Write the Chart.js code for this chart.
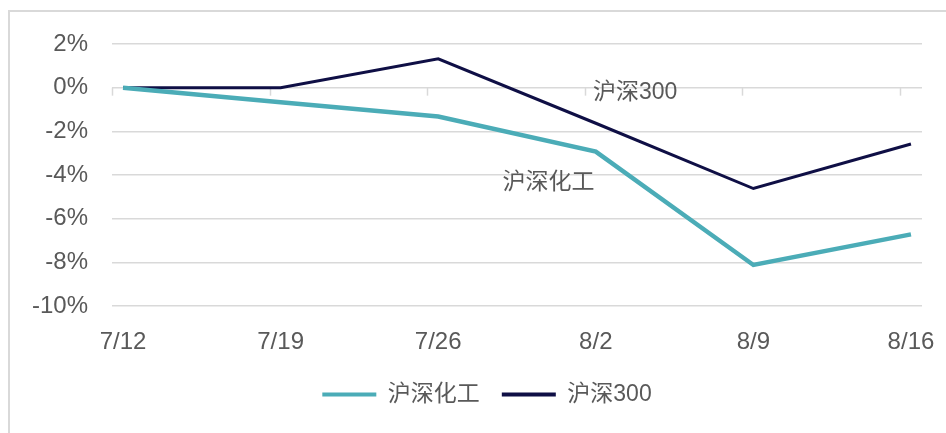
<!DOCTYPE html>
<html lang="zh">
<head>
<meta charset="UTF-8">
<title>沪深化工 vs 沪深300</title>
<script src="https://cdn.jsdelivr.net/npm/chart.js@4.4.0/dist/chart.umd.min.js"></script>
<style>
  html, body { margin: 0; padding: 0; background: #fff; }
  #wrap { position: relative; width: 946px; height: 433px; }
  #frame { position: absolute; left: 8px; top: 10px; right: 0; bottom: 0;
           border-left: 2px solid #d9d9d9; border-top: 2px solid #d9d9d9; pointer-events: none; }
</style>
</head>
<body>
<div id="wrap">
  <canvas id="chart" width="946" height="433"></canvas>
  <div id="frame"></div>
</div>
<script>
const dates = ['7/12', '7/19', '7/26', '8/2', '8/9', '8/16'];
const chem = [0, -0.67, -1.32, -2.93, -8.12, -6.72];   // 沪深化工
const hs300 = [0, 0, 1.32, -1.63, -4.62, -2.58];     // 沪深300
const yTicks = [2, 0, -2, -4, -6, -8, -10];

const FONT = '"Liberation Sans", Arial, "Noto Sans CJK SC", sans-serif';
const GREY = '#595959';
const TEAL = '#4bacb7';
const NAVY = '#0f0f45';
const xPad = 0.07;
const legendShift = 26;

// text labels written on the plot, anchored in data units
const inlineLabels = [
  { text: '沪深300', x: 3.25, y: -0.22 },
  { text: '沪深化工', x: 2.7, y: -4.37 }
];

const toPoints = arr => arr.map((v, i) => ({ x: i, y: v }));

const extras = {
  id: 'extras',
  afterUpdate(chart) {
    // legend in the original sits a bit right of the canvas centre
    chart.legend.left += legendShift;
    chart.legend.right += legendShift;
  },
  beforeDatasetsDraw(chart) {
    const { ctx, scales: { x, y } } = chart;
    const y0 = y.getPixelForValue(0);
    ctx.save();
    ctx.strokeStyle = '#d9d9d9';
    ctx.lineWidth = 1.5;
    dates.forEach((d, i) => {
      const px = Math.round(x.getPixelForValue(i - xPad)) + 0.5;
      ctx.beginPath();
      ctx.moveTo(px, y0);
      ctx.lineTo(px, y0 + 8);
      ctx.stroke();
    });
    ctx.restore();
  },
  afterDatasetsDraw(chart) {
    const { ctx, scales: { x, y } } = chart;
    ctx.save();
    ctx.font = '23px ' + FONT;
    ctx.fillStyle = GREY;
    ctx.textAlign = 'center';
    ctx.textBaseline = 'middle';
    inlineLabels.forEach(l => {
      ctx.fillText(l.text, x.getPixelForValue(l.x), y.getPixelForValue(l.y));
    });
    ctx.restore();
  }
};

const ctx = document.getElementById('chart').getContext('2d');
new Chart(ctx, {
  type: 'line',
  data: {
    datasets: [
      {
        label: '沪深化工',
        data: toPoints(chem),
        borderColor: TEAL,
        backgroundColor: TEAL,
        borderWidth: 4.5,
        pointRadius: 0,
        tension: 0
      },
      {
        label: '沪深300',
        data: toPoints(hs300),
        borderColor: NAVY,
        backgroundColor: NAVY,
        borderWidth: 3,
        pointRadius: 0,
        tension: 0
      }
    ]
  },
  options: {
    responsive: false,
    animation: false,
    layout: { padding: { left: 0, right: 24, top: 44, bottom: 17 } },
    plugins: {
      tooltip: { enabled: false },
      legend: {
        position: 'bottom',
        labels: {
          color: GREY,
          font: { family: FONT, size: 23 },
          boxWidth: 54,
          boxHeight: 4,
          padding: 22,
          generateLabels(chart) {
            return chart.data.datasets.map((ds, i) => ({
              text: ds.label,
              fillStyle: ds.borderColor,
              strokeStyle: ds.borderColor,
              lineWidth: 0,
              fontColor: GREY,
              datasetIndex: i,
              hidden: false
            }));
          }
        }
      }
    },
    scales: {
      x: {
        type: 'linear',
        min: -xPad,
        max: dates.length - 1 + xPad,
        afterBuildTicks(scale) {
          scale.ticks = dates.map((d, i) => ({ value: i }));
        },
        afterFit(scale) {
          scale.height = 55;
          scale.paddingLeft = 0;
          scale.paddingRight = 0;
        },
        grid: { display: false },
        border: { display: false },
        ticks: {
          color: GREY,
          font: { family: FONT, size: 24 },
          padding: 14,
          maxRotation: 0,
          autoSkip: false,
          callback: v => dates[v]
        }
      },
      y: {
        min: -10,
        max: 2,
        afterBuildTicks(scale) {
          scale.ticks = yTicks.map(v => ({ value: v }));
        },
        afterFit(scale) { scale.width = 112; },
        grid: { color: '#d9d9d9', lineWidth: 1.5, drawTicks: false },
        border: { display: false },
        ticks: {
          color: GREY,
          font: { family: FONT, size: 24 },
          padding: 24,
          callback: v => v + '%'
        }
      }
    }
  },
  plugins: [extras]
});
</script>
</body>
</html>
